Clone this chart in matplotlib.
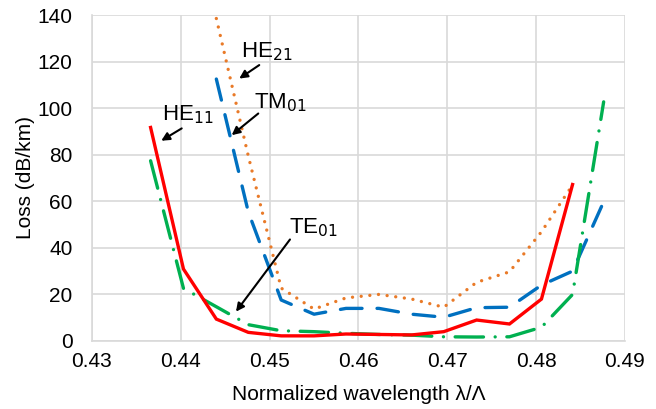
import matplotlib
matplotlib.use("Agg")
import matplotlib.pyplot as plt

plt.rcParams['font.family'] = ['Liberation Sans', 'DejaVu Sans']

# HE11 (red solid)
he11_x = [0.4366, 0.4403, 0.4440, 0.4476, 0.4513, 0.4550, 0.4586,
          0.4623, 0.4660, 0.4696, 0.4733, 0.4770, 0.4806, 0.4841]
he11_y = [91.7, 30.9, 9.4, 3.7, 2.2, 2.2, 3.0, 2.8, 2.6, 4.0, 9.0, 7.3, 18.0, 67.2]

# TE01 (green dash-dot)
te01_x = [0.4366, 0.4403, 0.4440, 0.4476, 0.4513, 0.4550, 0.4586, 0.4623,
          0.4660, 0.4696, 0.4733, 0.4770, 0.4806, 0.4841, 0.4876]
te01_y = [77.4, 22.6, 14.7, 7.0, 4.4, 4.0, 3.3, 2.8, 2.5, 1.8, 1.7, 1.8, 5.9, 20.0, 102.7]

# TM01 (blue dashed)
tm01_x = [0.4440, 0.4476, 0.4513, 0.4550, 0.4586, 0.4623, 0.4660,
          0.4696, 0.4733, 0.4770, 0.4806, 0.4841, 0.4876]
tm01_y = [112.5, 55.4, 17.6, 11.5, 14.0, 14.0, 11.5, 10.2, 14.3, 14.5, 24.0, 30.0, 59.8]

# HE21 (orange dotted)
he21_x = [0.4440, 0.4476, 0.4513, 0.4550, 0.4586, 0.4623, 0.4660,
          0.4696, 0.4733, 0.4770, 0.4806, 0.4841]
he21_y = [138.5, 79.4, 22.7, 13.7, 18.5, 20.0, 18.0, 14.5, 25.2, 29.7, 46.9, 67.0]

fig = plt.figure(figsize=(6.56, 4.09), dpi=100)
ax = fig.add_axes([0.1402, 0.1663, 0.8125, 0.797])

ax.plot(he21_x, he21_y, color='#E97A28', lw=2.4, linestyle=(0, (0.01, 2.6)),
        dash_capstyle='round')
ax.plot(tm01_x, tm01_y, color='#0070C0', lw=2.4, linestyle=(0, (6.5, 4.5)),
        dash_capstyle='round')
ax.plot(te01_x, te01_y, color='#00B050', lw=2.4,
        linestyle=(0, (8.5, 3.5, 0.01, 3.5)), dash_capstyle='round')
ax.plot(he11_x, he11_y, color='#FF0000', lw=2.4, solid_joinstyle='miter')

ax.set_xlim(0.43, 0.49)
ax.set_ylim(0, 140)
ax.set_xticks([0.43, 0.44, 0.45, 0.46, 0.47, 0.48, 0.49])
ax.set_xticklabels(['0.43', '0.44', '0.45', '0.46', '0.47', '0.48', '0.49'])
ax.set_yticks(range(0, 141, 20))
ax.grid(True, color='#D9D9D9', lw=1.2)
ax.set_axisbelow(True)
for s in ['top', 'right']:
    ax.spines[s].set_visible(False)
for s in ['left', 'bottom']:
    ax.spines[s].set_color('#D9D9D9')
    ax.spines[s].set_linewidth(1.2)
ax.tick_params(length=0, labelsize=15)
ax.tick_params(axis='x', pad=8)
ax.tick_params(axis='y', pad=14)
ax.set_xlabel('Normalized wavelength λ/Λ', fontsize=15, labelpad=10)
ax.set_ylabel('Loss (dB/km)', fontsize=15, labelpad=2)

arrow = dict(arrowstyle='-|>', color='black', lw=1.5, mutation_scale=12,
             shrinkA=0, shrinkB=0)
fs = 16
ax.annotate('', xy=(0.4378, 86), xytext=(0.4401, 91.3), arrowprops=arrow)
ax.text(0.4408, 97, 'HE$_{11}$', fontsize=fs, ha='center', va='center')
ax.annotate('', xy=(0.44658, 112.7), xytext=(0.44883, 118.5), arrowprops=arrow)
ax.text(0.44964, 124.2, 'HE$_{21}$', fontsize=fs, ha='center', va='center')
ax.annotate('', xy=(0.44573, 88.4), xytext=(0.44872, 97.7), arrowprops=arrow)
ax.text(0.45125, 102.4, 'TM$_{01}$', fontsize=fs, ha='center', va='center')
ax.annotate('', xy=(0.44621, 12.6), xytext=(0.45229, 43.6), arrowprops=arrow)
ax.text(0.4549, 48.5, 'TE$_{01}$', fontsize=fs, ha='center', va='center')

fig.savefig('out.png', dpi=100)
